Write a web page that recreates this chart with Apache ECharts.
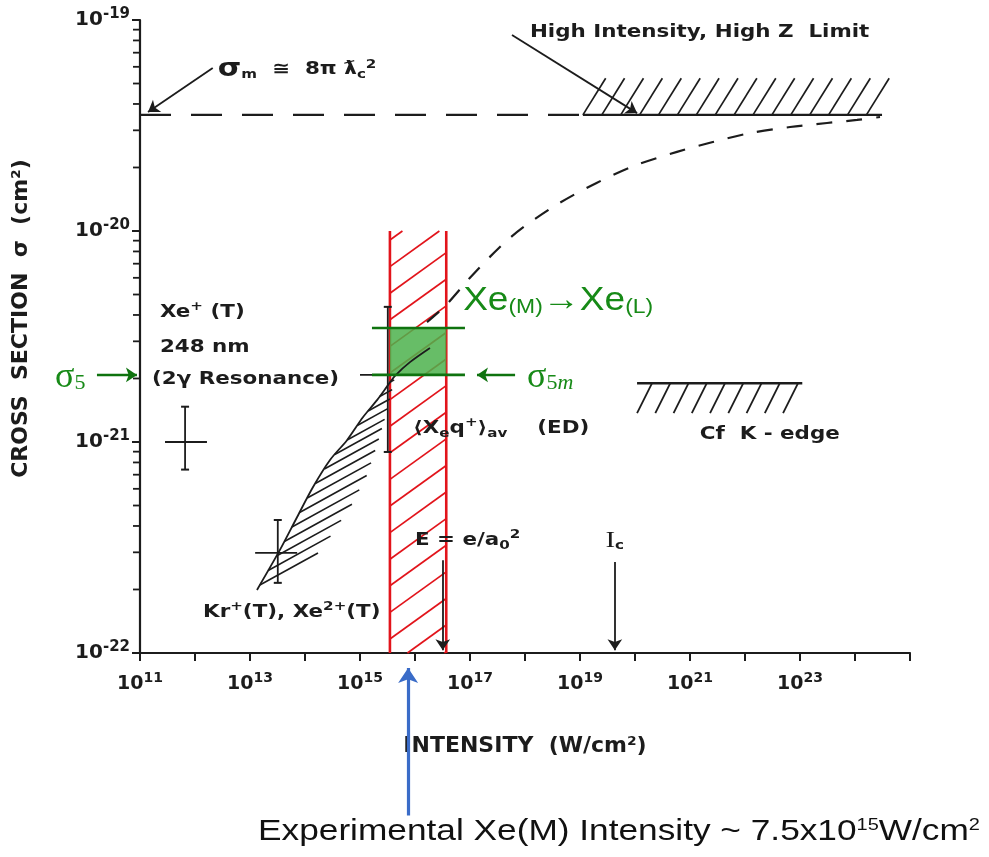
<!DOCTYPE html>
<html><head><meta charset="utf-8">
<script src="https://cdn.jsdelivr.net/npm/echarts@6/dist/echarts.min.js"></script>
<style>html,body{margin:0;padding:0;background:#fff}#c{width:989px;height:857px}</style>
</head><body><div id="c"></div>
<script>
// ---------------- data ----------------
const xTickExponents = [11,12,13,14,15,16,17,18,19,20,21,22,23,24,25];
const xLabelExponents = [11,13,15,17,19,21,23];
const yTickExponents = [-22,-21,-20,-19];
const yMinorMultipliers = [2,3,4,5,6,7,8,9];
const yMinorDecades = [1e-22,1e-21,1e-20];

// sigma_m dashed limit and High Intensity / High Z limit
const sigmaM = 3.55e-20;
const sigmaMDashI = [1e11, 1.13e19];
const highZI = [1.13e19, 3.1e24];
const highZTopSigma = 5.3e-20;

// dashed theoretical curve
const curveI = [1.65e16,3.5e16,1.0e17,3.5e17,9.2e17,4.3e18,2.0e19,1.09e20,5.8e20,2.6e21,1.23e22,6.6e22,3.1e23,1.09e24,2.85e24];
const curveSigma = [3.7e-21,4.4e-21,6.0e-21,8.4e-21,1.04e-20,1.36e-20,1.69e-20,2.06e-20,2.37e-20,2.64e-20,2.91e-20,3.11e-20,3.25e-20,3.36e-20,3.47e-20];

// experimental Xe(M) intensity band (red) and sigma band (green)
const bandI = [3.5e15, 3.7e16];
const bandSigma = [1.0e-20, 1e-22];
const sigma5 = 2.08e-21;
const sigmaXeL = 3.47e-21;
const greenLineI = [1.65e15, 8.1e16];

// Cf K-edge
const cfEdgeI = [1.09e20, 1.1e23];
const cfEdgeSigma = 1.9e-21;
const cfEdgeHatchSigma = 1.37e-21;

// Xe+(T) / Kr+(T), Xe2+(T) hatched data region
const xeCurveI = [1.34e13,3.5e13,7.2e13,1.4e14,2.85e14,5.8e14,1.13e15,2.04e15,3.23e15,4.33e15,8.1e15,1.87e16];
const xeCurveSigma = [1.99e-22,3.08e-22,4.41e-22,6.12e-22,8.22e-22,1.02e-21,1.31e-21,1.58e-21,1.86e-21,2.06e-21,2.39e-21,2.79e-21];
const xeHatchEndI = [1.87e14,1.72e14,2.85e14,4.33e14,6.6e14,1.34e15,2.04e15,2.85e15,3.82e15,4.33e15];
const xeHatchEndSigma = [1.78e-22,3.01e-22,3.55e-22,4.18e-22,4.87e-22,6.98e-22,9.68e-22,1.30e-21,1.76e-21,2.06e-21];

// error crosses
const errI = [6.6e11, 3.2e13, 3.2e15];
const errSigma = [1.0e-21, 2.98e-22, 2.08e-21];
const errILow = [2.85e11, 1.24e13, 1.0e15];
const errIHigh = [1.65e12, 7.2e13, 1.0e16];
const errSigmaLow = [7.4e-22, 2.15e-22, 8.97e-22];
const errSigmaHigh = [1.47e-21, 4.27e-22, 4.37e-21];

// black arrows: sigma_m note, high-Z note, I_c, E = e/a0^2
const arrowFromI = [2.1e12, 5.8e17, 4.3e19, 3.2e16];
const arrowFromSigma = [5.93e-20, 8.5e-20, 2.7e-22, 2.75e-22];
const arrowToI = [1.4e11, 1.09e20, 4.3e19, 3.2e16];
const arrowToSigma = [3.66e-20, 3.62e-20, 1.03e-22, 1.03e-22];
// green arrows: sigma_5 and sigma_5m
const gArrowFromI = [1.65e10, 6.6e17];
const gArrowToI = [8.8e10, 1.34e17];
// blue arrow: experimental intensity
const blueArrowI = [7.5e15];
const blueArrowFromSigma = [1.7e-23];
const blueArrowToSigma = [8.5e-23];

// annotation texts
const scanNotes = [
  '{big|σ}{sub|m}  ≅  8π ƛ{sub|c}{sup|2}',
  'High Intensity, High Z  Limit',
  'Xe{sup|+} (T)',
  '248 nm',
  '(2γ Resonance)',
  '⟨X{sub|e}q{sup|+}⟩{sub|av}    (ED)',
  'Cf  K - edge',
  'E = e/a{sub|0}{sup|2}',
  '{ser|I}{sub|c}',
  'Kr{sup|+}(T), Xe{sup|2+}(T)'
];
const scanNoteI = [2.6e12, 1.23e18, 2.3e11, 2.3e11, 1.65e11, 9.2e15, 1.5e21, 1.0e16, 2.9e19, 1.4e12];
const scanNoteSigma = [5.8e-20, 8.7e-20, 4.1e-21, 2.8e-21, 1.97e-21, 1.16e-21, 1.08e-21, 3.4e-22, 3.4e-22, 1.56e-22];
const greenNotes = ['Xe{s|(M)}→Xe{s|(L)}'];
const greenNoteI = [7.5e16];
const greenNoteSigma = [4.7e-21];
const sigmaNotes = ['σ{sub|5}', 'σ{sub|5}{it|m}'];
const sigmaNoteI = [2.85e9, 1.09e18];
const sigmaNoteSigma = [2.03e-21, 2.03e-21];
const captionNotes = ['Experimental Xe(M) Intensity ~ 7.5x10{sup|15}W/cm{sup|2}'];
const captionI = [1.4e13];
const captionSigma = [1.42e-23];

// ---------------- styles ----------------
const INK = '#1c1c1c', RED = '#e2141b', GREEN_LINE = '#0f730f', GREEN_FILL = '#4cb24c';
const GREEN_TEXT = '#178a17', BLUE = '#3a6cc8';
const SCAN = '"DejaVu Sans", "Liberation Sans", sans-serif';
const L = Math.log10;

function seg(s, color, w) {
  return {type: 'line', shape: {x1: s[0], y1: s[1], x2: s[2], y2: s[3]}, style: {stroke: color, lineWidth: w, lineCap: 'butt'}};
}
function clipRay(px, py, dx, dy, xmin, ymin, xmax, ymax) {
  let t0 = -Infinity, t1 = Infinity;
  function chk(p, d, lo, hi) {
    if (Math.abs(d) < 1e-9) return p >= lo && p <= hi;
    let a = (lo - p) / d, b = (hi - p) / d;
    if (a > b) { const t = a; a = b; b = t; }
    t0 = Math.max(t0, a); t1 = Math.min(t1, b);
    return t0 <= t1;
  }
  if (!chk(px, dx, xmin, xmax) || !chk(py, dy, ymin, ymax)) return null;
  return [px + t0 * dx, py + t0 * dy, px + t1 * dx, py + t1 * dy];
}
function xOnPolyAtY(pts, y) {
  for (let i = 0; i < pts.length - 1; i++) {
    const a = pts[i], b = pts[i + 1];
    if ((y - a[1]) * (y - b[1]) <= 0 && a[1] !== b[1]) {
      const t = (y - a[1]) / (b[1] - a[1]);
      return a[0] + t * (b[0] - a[0]);
    }
  }
  return null;
}
function rayHitPoly(s, d, pts) {
  let best = null;
  for (let i = 0; i < pts.length - 1; i++) {
    const p = pts[i], q = pts[i + 1];
    const ex = q[0] - p[0], ey = q[1] - p[1];
    const den = d[0] * ey - d[1] * ex;
    if (Math.abs(den) < 1e-9) continue;
    const wx = p[0] - s[0], wy = p[1] - s[1];
    const t = (wx * ey - wy * ex) / den;
    const u = (wx * d[1] - wy * d[0]) / den;
    if (t > 2 && u >= 0 && u <= 1 && (best === null || t < best)) best = t;
  }
  return best === null ? null : [s[0] + best * d[0], s[1] + best * d[1]];
}

function renderBand(params, api) {
  const a = api.coord([api.value(0), api.value(2)]);
  const b = api.coord([api.value(1), api.value(3)]);
  const x0 = a[0], x1 = b[0], y0 = a[1], y1 = b[1];
  const kids = [];
  const slope = 0.72, step = 26.6;
  const yEnd = y1 + slope * (x1 - x0);
  for (let c = y0 + 9; c < yEnd; c += step) {
    const s = clipRay(x0, c, 1, -slope, x0, y0, x1, y1);
    if (s && Math.hypot(s[2] - s[0], s[3] - s[1]) > 2) kids.push(seg(s, RED, 1.7));
  }
  kids.push(seg([x0, y0, x0, y1], RED, 2.6));
  kids.push(seg([x1, y0, x1, y1], RED, 2.6));
  return {type: 'group', children: kids};
}
function renderGreenBox(params, api) {
  const a = api.coord([api.value(0), api.value(2)]);
  const b = api.coord([api.value(1), api.value(3)]);
  return {type: 'rect', shape: {x: a[0], y: a[1], width: b[0] - a[0], height: b[1] - a[1]},
    style: {fill: GREEN_FILL, opacity: 0.85}};
}
function renderHighZ(params, api) {
  const a = api.coord([api.value(0), api.value(2)]);
  const b = api.coord([api.value(1), api.value(3)]);
  const x0 = a[0], yb = a[1], x1 = b[0], yt = b[1];
  const h = yb - yt, lean = 0.62 * h;
  const kids = [seg([x0, yb, x1, yb], INK, 2.2)];
  for (let x = x0; x <= x1 - 12; x += 18.9) kids.push(seg([x, yb, x + lean, yt], INK, 1.7));
  return {type: 'group', children: kids};
}
function renderCf(params, api) {
  const a = api.coord([api.value(0), api.value(2)]);
  const b = api.coord([api.value(1), api.value(3)]);
  const x0 = a[0], yb = a[1], x1 = b[0], yh = b[1];
  const h = yh - yb;
  const kids = [seg([x0, yb, x1, yb], INK, 2.4)];
  for (let x = x0 + 15; x <= x1 - 3; x += 18.25) kids.push(seg([x, yb, x - 0.5 * h, yh], INK, 1.8));
  return {type: 'group', children: kids};
}
function renderWedge(params, api) {
  const up = xeCurveI.map((v, i) => api.coord([L(v), L(xeCurveSigma[i])]));
  const lo = xeHatchEndI.map((v, i) => api.coord([L(v), L(xeHatchEndSigma[i])]));
  const kids = [{type: 'polyline', shape: {points: up, smooth: 0.3}, style: {stroke: INK, lineWidth: 1.8, fill: null}}];
  const d = [1, -0.55];
  for (let y = up[0][1] - 5; y > lo[lo.length - 1][1] + 3; y -= 14.5) {
    const x = xOnPolyAtY(up, y);
    if (x === null) continue;
    const e = rayHitPoly([x, y], d, lo);
    if (e) kids.push(seg([x, y, e[0], e[1]], INK, 1.6));
  }
  return {type: 'group', children: kids};
}
function renderErr(params, api) {
  const c = api.coord([api.value(0), api.value(1)]);
  const l = api.coord([api.value(2), api.value(1)]);
  const r = api.coord([api.value(3), api.value(1)]);
  const lo = api.coord([api.value(0), api.value(4)]);
  const hi = api.coord([api.value(0), api.value(5)]);
  return {type: 'group', children: [
    seg([l[0], c[1], r[0], c[1]], INK, 1.8),
    seg([c[0], lo[1], c[0], hi[1]], INK, 1.8),
    seg([c[0] - 4, lo[1], c[0] + 4, lo[1]], INK, 2),
    seg([c[0] - 4, hi[1], c[0] + 4, hi[1]], INK, 2)
  ]};
}
function renderMinorTick(params, api) {
  const p = api.coord([api.value(0), api.value(1)]);
  return seg([p[0] - 7, p[1], p[0], p[1]], INK, 1.8);
}

function textSeries(texts, I, S, st) {
  return {
    type: 'custom', silent: true, z: 10, clip: false,
    data: I.map((v, i) => [L(v), L(S[i])]),
    renderItem: (params, api) => {
      const p = api.coord([api.value(0), api.value(1)]);
      return {type: 'text', x: p[0], y: p[1], scaleX: st.scaleX || 1, rotation: st.rotation || 0,
        style: {text: texts[params.dataIndex], fontFamily: st.family, fontSize: st.size, fontWeight: st.weight,
          fill: st.color, align: st.align || 'left', verticalAlign: 'middle', rich: st.rich}};
    }
  };
}
function arrowSeries(fI, fS, tI, tS, color, width, size) {
  return {type: 'lines', coordinateSystem: 'cartesian2d', silent: true, clip: false, z: 6,
    symbol: ['none', 'arrow'], symbolSize: size,
    lineStyle: {color: color, width: width, opacity: 1, curveness: 0},
    data: fI.map((v, i) => ({coords: [[L(v), L(fS[i])], [L(tI[i]), L(tS[i])]]}))};
}

const scanRich = {
  sup: {fontSize: 12, fontFamily: SCAN, fontWeight: 'bold', fill: INK, padding: [0, 0, 11, 0]},
  sub: {fontSize: 12, fontFamily: SCAN, fontWeight: 'bold', fill: INK, padding: [10, 0, 0, 0]},
  big: {fontSize: 24, fontFamily: SCAN, fontWeight: 'bold', fill: INK},
  ser: {fontSize: 23, fontFamily: '"Liberation Serif", serif', fontWeight: 'normal', fill: INK}
};
const tickRichX = {
  b: {fontFamily: SCAN, fontWeight: 'bold', fontSize: 19, color: INK},
  s: {fontFamily: SCAN, fontWeight: 'bold', fontSize: 14, color: INK, padding: [0, 0, 12, 0]}
};
const tickRichY = {
  b: {fontFamily: SCAN, fontWeight: 'bold', fontSize: 20, color: INK},
  s: {fontFamily: SCAN, fontWeight: 'bold', fontSize: 15, color: INK, padding: [0, 0, 12, 0]}
};

const minorData = [];
yMinorDecades.forEach(dec => yMinorMultipliers.forEach(k => minorData.push([xTickExponents[0], L(k * dec)])));

const option = {
  animation: false,
  backgroundColor: '#ffffff',
  grid: {left: 140, right: 79, top: 20, bottom: 204, containLabel: false, outerBoundsMode: 'none'},
  xAxis: {
    type: 'value', min: xTickExponents[0], max: xTickExponents[xTickExponents.length - 1], interval: 1,
    axisLine: {onZero: false, lineStyle: {color: INK, width: 2.2}},
    axisTick: {length: 8, lineStyle: {color: INK, width: 2}},
    splitLine: {show: false},
    axisLabel: {margin: 18, formatter: v => xLabelExponents.indexOf(v) >= 0 ? '{b|10}{s|' + v + '}' : '', rich: tickRichX},
    name: 'INTENSITY  (W/cm²)', nameLocation: 'middle', nameGap: 82,
    nameTextStyle: {fontFamily: SCAN, fontWeight: 'bold', fontSize: 22, color: INK}
  },
  yAxis: {
    type: 'value', min: yTickExponents[0], max: yTickExponents[yTickExponents.length - 1], interval: 1,
    axisLine: {onZero: false, lineStyle: {color: INK, width: 2.2}},
    axisTick: {length: 8, lineStyle: {color: INK, width: 2}},
    splitLine: {show: false},
    axisLabel: {margin: 10, formatter: v => '{b|10}{s|' + v + '}', rich: tickRichY},
    name: 'CROSS  SECTION  σ  (cm²)', nameLocation: 'middle', nameGap: 108,
    nameTextStyle: {fontFamily: SCAN, fontWeight: 'bold', fontSize: 22, color: INK, padding: [0, 0, 0, 36]}
  },
  series: [
    {type: 'custom', silent: true, z: 1, renderItem: renderBand,
     data: [[L(bandI[0]), L(bandI[1]), L(bandSigma[0]), L(bandSigma[1])]]},
    {type: 'custom', silent: true, z: 2, renderItem: renderGreenBox,
     data: [[L(bandI[0]), L(bandI[1]), L(sigmaXeL), L(sigma5)]]},
    {type: 'line', silent: true, z: 4, symbol: 'none', lineStyle: {color: GREEN_LINE, width: 2.6},
     data: [[L(greenLineI[0]), L(sigmaXeL)], [L(greenLineI[1]), L(sigmaXeL)]]},
    {type: 'line', silent: true, z: 4, symbol: 'none', lineStyle: {color: GREEN_LINE, width: 2.6},
     data: [[L(greenLineI[0]), L(sigma5)], [L(greenLineI[1]), L(sigma5)]]},
    {type: 'line', silent: true, z: 3, symbol: 'none', lineStyle: {color: INK, width: 2.3, type: [31, 20]},
     data: sigmaMDashI.map(v => [L(v), L(sigmaM)])},
    {type: 'custom', silent: true, z: 3, renderItem: renderHighZ,
     data: [[L(highZI[0]), L(highZI[1]), L(sigmaM), L(highZTopSigma)]]},
    {type: 'line', silent: true, z: 3, symbol: 'none', smooth: 0.3, lineStyle: {color: INK, width: 2.2, type: [16, 14]},
     data: curveI.map((v, i) => [L(v), L(curveSigma[i])])},
    {type: 'custom', silent: true, z: 3, renderItem: renderCf,
     data: [[L(cfEdgeI[0]), L(cfEdgeI[1]), L(cfEdgeSigma), L(cfEdgeHatchSigma)]]},
    {type: 'custom', silent: true, z: 3, renderItem: renderWedge, data: [[L(xeCurveI[0]), L(xeCurveSigma[0])]]},
    {type: 'custom', silent: true, z: 3, renderItem: renderErr,
     data: errI.map((v, i) => [L(v), L(errSigma[i]), L(errILow[i]), L(errIHigh[i]), L(errSigmaLow[i]), L(errSigmaHigh[i])])},
    {type: 'custom', silent: true, z: 3, clip: false, renderItem: renderMinorTick, data: minorData},
    arrowSeries(arrowFromI, arrowFromSigma, arrowToI, arrowToSigma, INK, 1.8, 11),
    arrowSeries(gArrowFromI, [sigma5, sigma5], gArrowToI, [sigma5, sigma5], GREEN_LINE, 2.4, 11),
    arrowSeries(blueArrowI, blueArrowFromSigma, blueArrowI, blueArrowToSigma, BLUE, 3.2, 15),
    textSeries(scanNotes, scanNoteI, scanNoteSigma,
      {family: SCAN, size: 17, weight: 'bold', color: INK, scaleX: 1.26, rich: scanRich}),
    textSeries(greenNotes, greenNoteI, greenNoteSigma,
      {family: '"Liberation Sans", sans-serif', size: 34, weight: 'normal', color: GREEN_TEXT, scaleX: 1.09,
       rich: {s: {fontSize: 21, fontFamily: '"Liberation Sans", sans-serif', fill: GREEN_TEXT, padding: [14, 0, 0, 0]}}}),
    textSeries(sigmaNotes, sigmaNoteI, sigmaNoteSigma,
      {family: '"Liberation Serif", serif', size: 36, weight: 'normal', color: GREEN_TEXT, scaleX: 1,
       rich: {sub: {fontSize: 22, fontFamily: '"Liberation Serif", serif', fill: GREEN_TEXT, padding: [13, 0, 0, 0]},
              it: {fontSize: 22, fontFamily: '"Liberation Serif", serif', fontStyle: 'italic', fill: GREEN_TEXT, padding: [13, 0, 0, 0]}}}),
    textSeries(captionNotes, captionI, captionSigma,
      {family: '"Liberation Sans", sans-serif', size: 30, weight: 'normal', color: '#111', scaleX: 1.175,
       rich: {sup: {fontSize: 17, fontFamily: '"Liberation Sans", sans-serif', fill: '#111', padding: [0, 0, 14, 0]}}})
  ]
};
const chart = echarts.init(document.getElementById('c'), null, {renderer: 'canvas'});
chart.setOption(option);
</script>
</body></html>
